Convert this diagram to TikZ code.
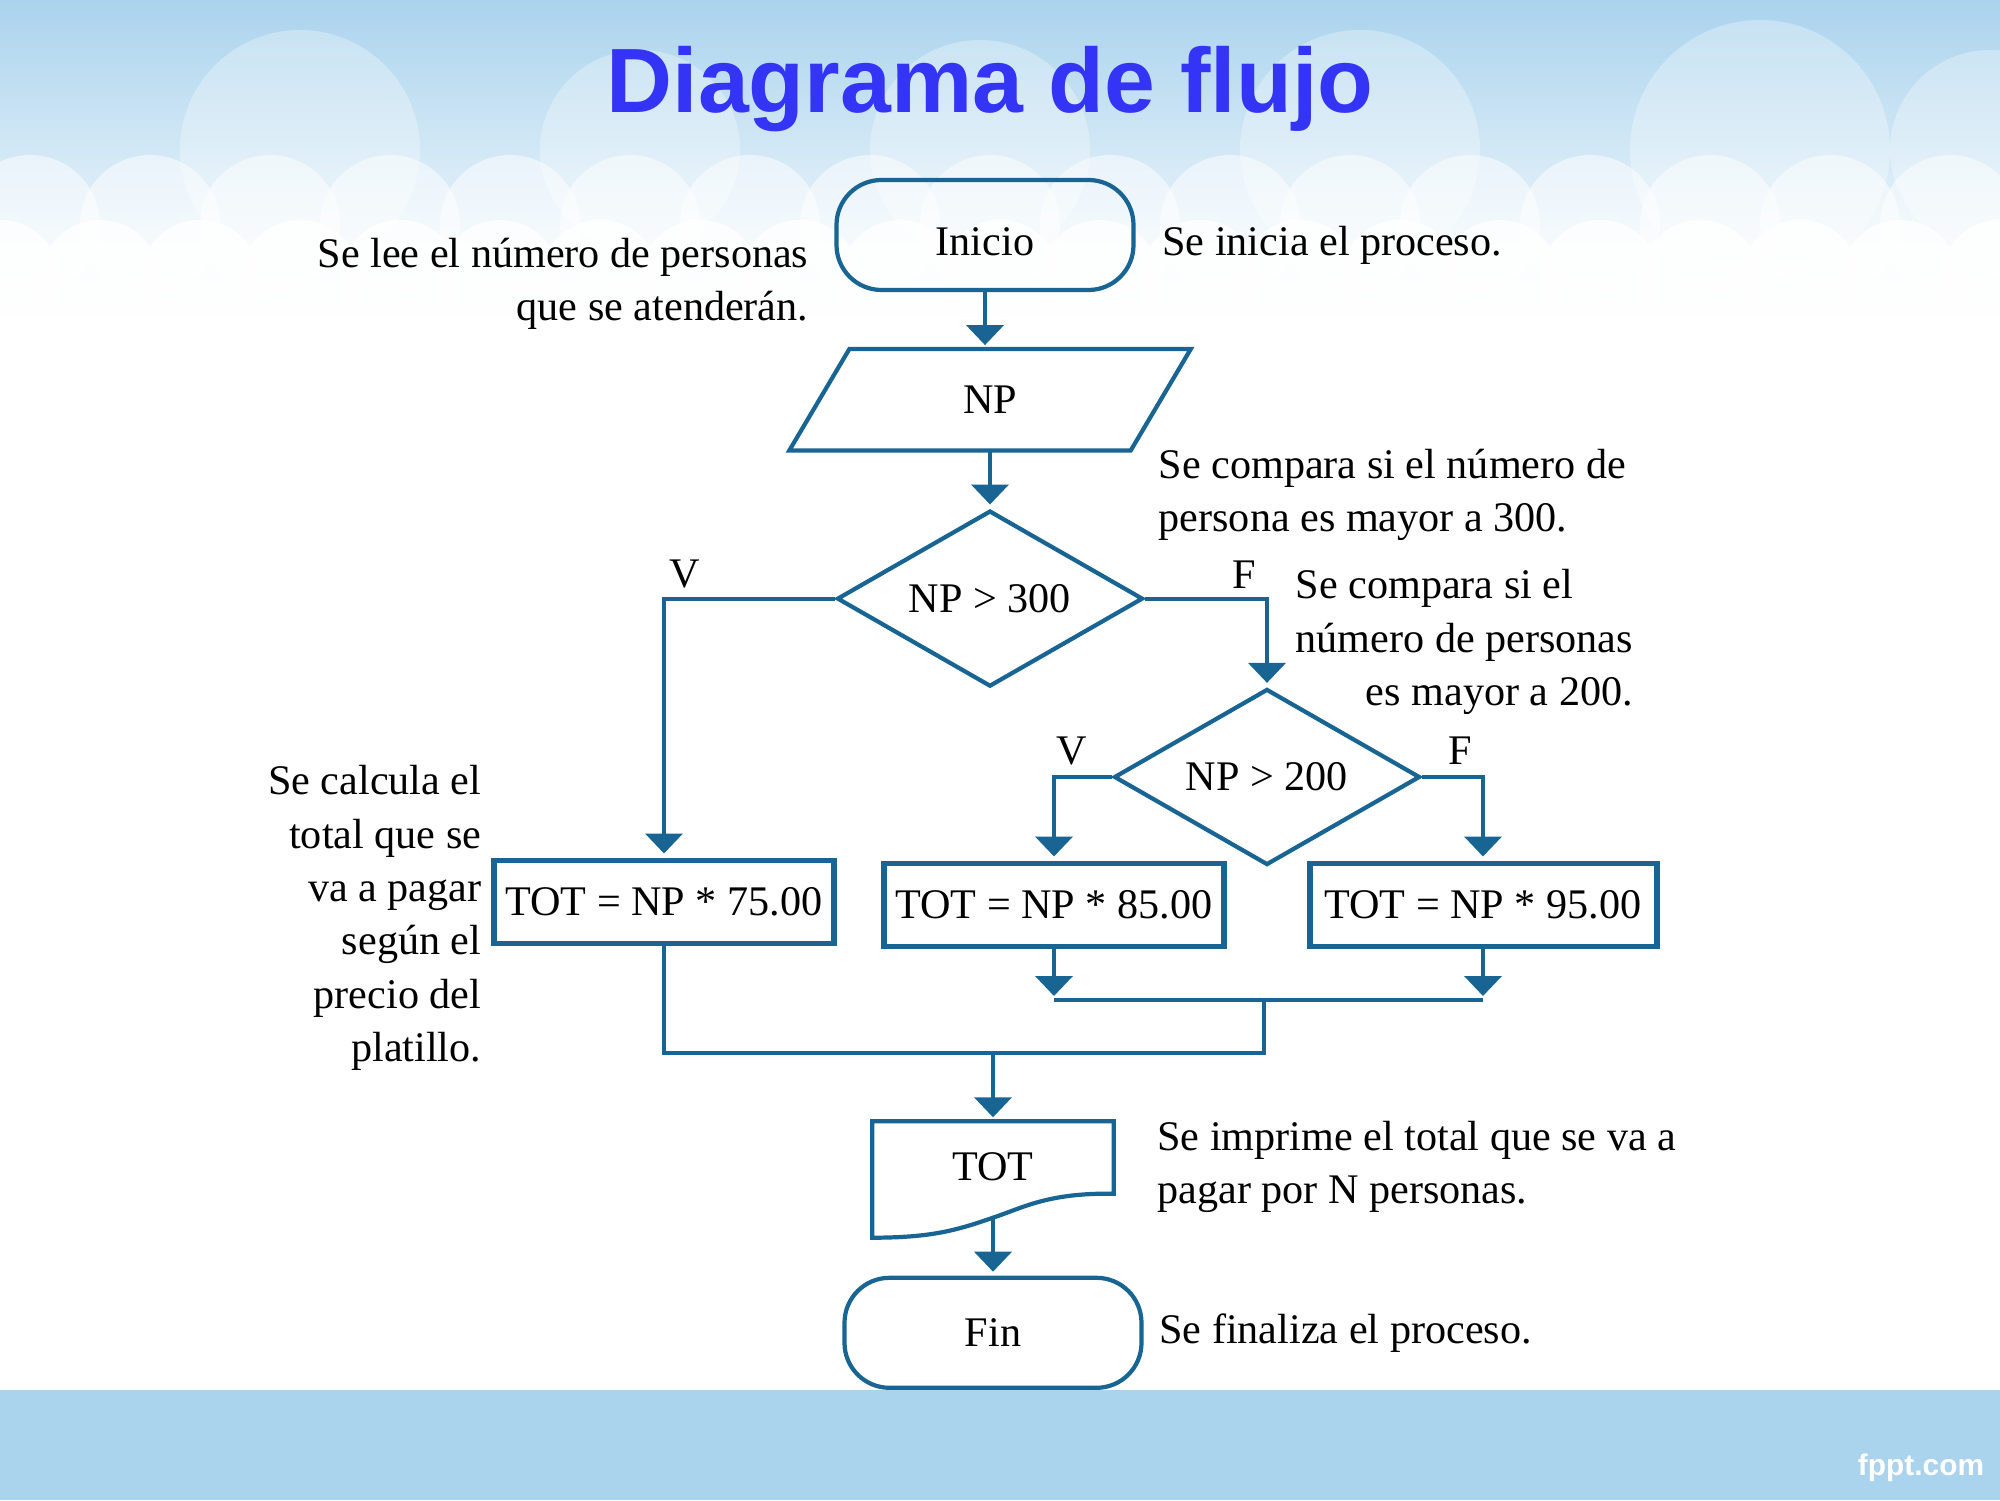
\documentclass[tikz,border=0pt]{standalone}
\usepackage{fontspec}
\setmainfont{Liberation Serif}
\newfontfamily\titlefont{Liberation Sans}
\usepackage{tikz}
\usetikzlibrary{shapes.geometric, arrows.meta, positioning, calc}
\definecolor{flowblue}{RGB}{24,101,148}
\definecolor{skyblue}{RGB}{170,211,237}
\definecolor{titleblue}{RGB}{52,52,246}

\begin{document}
\begin{tikzpicture}[
    terminal/.style={rectangle, rounded corners=0.45cm, draw=flowblue, line width=1.2pt, minimum width=2.97cm, minimum height=1.1cm, text centered},
    iobox/.style={rectangle, minimum width=3.4cm, minimum height=1cm},
    decision/.style={diamond, aspect=1.74, inner sep=0pt, draw=flowblue, line width=1.2pt, minimum width=3.06cm, minimum height=1.76cm},
    process/.style={rectangle, draw=flowblue, line width=1.7pt, minimum width=3.4cm, minimum height=0.83cm},
    docbox/.style={rectangle, minimum width=2.4cm, minimum height=0.9cm},
    outline/.style={draw=flowblue, line width=1.2pt},
    note/.style={inner sep=0pt},
    branch/.style={inner sep=0pt},
    arrow/.style={draw=flowblue, line width=1.2pt, -{Triangle[width=0.37cm, length=0.2cm]}, shorten >=0.04cm},
    link/.style={draw=flowblue, line width=1.2pt},
    font=\fontsize{12}{15.2}\selectfont
]

    % Background
    \useasboundingbox (0,0) rectangle (20,15);
    \fill[white] (0,0) rectangle (20,15);
    \shade[top color=skyblue, bottom color=white] (0,11.8) rectangle (20,15);
    \foreach \x/\r in {3.0/1.2, 6.4/1.0, 9.8/1.1, 13.6/1.2, 17.6/1.3, 19.9/1.0}
        \fill[white, opacity=0.3] (\x,13.5) circle (\r);
    \foreach \x in {0.3,1.5,...,19.5}
        \fill[white, opacity=0.5] (\x,12.75) circle (0.7);
    \foreach \x in {0,1,...,20}
        \fill[white, opacity=0.8] (\x,12.2) circle (0.6);
    \fill[skyblue] (0,0) rectangle (20,1.1);
    \node[font=\titlefont\bfseries\fontsize{8.5}{10}\selectfont, text=white] (brand) at (19.21,0.32) {fppt.com};

    % Title
    \node[font=\titlefont\bfseries\fontsize{26}{30}\selectfont, text=titleblue, anchor=base] (title) at (9.9,13.87) {Diagrama de flujo};

    % Flow nodes
    \node[terminal, text height=0.42cm, text depth=0pt] (inicio) at (9.85,12.65) {Inicio};
    \node[iobox, below=0.57cm of inicio, xshift=0.05cm] (np) {NP};
    \node[decision, below=0.58cm of np] (d300) {NP > 300};
    \node[decision] (d200) at (12.67,7.23) {NP > 200};
    \node[process, minimum width=3.38cm] (tot75) at (6.64,5.98) {TOT = NP * 75.00};
    \node[process] (tot85) at (10.54,5.95) {TOT = NP * 85.00};
    \node[process, minimum width=3.47cm] (tot95) at (14.83,5.95) {TOT = NP * 95.00};
    \node[docbox] (tot) at (9.93,3.33) {TOT};
    \node[terminal, below=0.63cm of tot] (fin) {Fin};

    % Parallelogram and document outlines
    \draw[outline] ($(np.north west)+(0.3,0)$) -- ($(np.north east)+(0.3,0)$)
        -- ($(np.south east)+(-0.3,0)$) -- ($(np.south west)+(-0.3,0)$) -- cycle;
    \draw[outline] (tot.north west) -- (tot.north east) -- ($(tot.south east)+(0,0.19)$)
        .. controls ($(tot.south)+(0.55,0.2)$) and ($(tot.south)+(0.3,0.05)$) .. ($(tot.south)+(0,-0.05)$)
        .. controls ($(tot.south)+(-0.35,-0.17)$) and ($(tot.south)+(-0.6,-0.25)$) .. ($(tot.south west)+(0,-0.25)$) -- cycle;

    % Notes
    \node[note, right=0.26cm of inicio, yshift=-0.1cm] (n-inicio) {Se inicia el proceso.};
    \node[note, align=right, anchor=east] (n-lee) at (8.09,12.16) {Se lee el número de personas\\que se atenderán.};
    \node[note, align=left, anchor=west] (n-300) at (11.58,10.05) {Se compara si el número de\\persona es mayor a 300.};
    \node[note, align=left, anchor=west] (n-200) at (12.95,8.58) {Se compara si el\\número de personas\\\hphantom{número de personas}\llap{es mayor a 200.}};
    \node[note, align=right, anchor=east] (n-calc) at (4.82,5.82) {Se calcula el\\total que se\\va a pagar\\según el\\precio del\\platillo.};
    \node[note, align=left, right=0.43cm of tot] (n-tot) {Se imprime el total que se va a\\pagar por N personas.};
    \node[note, right=0.15cm of fin] (n-fin) {Se finaliza el proceso.};

    % Connections
    \draw[arrow] (inicio) -- (inicio |- np.north);
    \draw[arrow] (np) -- (d300);
    \draw[arrow] (d300.west) -| node[branch, pos=0.5, anchor=south west, xshift=0.03cm, yshift=0.08cm] {V} (tot75.north);
    \draw[arrow] (d300.east) -| node[branch, pos=0.5, anchor=south east, xshift=-0.09cm, yshift=0.08cm] {F} (d200.north);
    \draw[arrow] (d200.west) -| node[branch, pos=0.5, anchor=south west, yshift=0.1cm] {V} (tot85.north);
    \draw[arrow] (d200.east) -| node[branch, pos=0.5, anchor=south east, xshift=-0.09cm, yshift=0.1cm] {F} (tot95.north);

    \coordinate (join) at (12.64,5.0);
    \coordinate (merge) at (12.64,4.47);
    \draw[arrow] (tot85) -- (tot85 |- join);
    \draw[arrow] (tot95) -- (tot95 |- join);
    \draw[link] (tot85 |- join) -- (tot95 |- join);
    \draw[link] (join) -- (merge) -- (tot75 |- merge) -- (tot75);
    \draw[arrow] (tot |- merge) -- (tot);
    \draw[arrow, shorten <=0.05cm] (tot) -- (fin);

\end{tikzpicture}
\end{document}
